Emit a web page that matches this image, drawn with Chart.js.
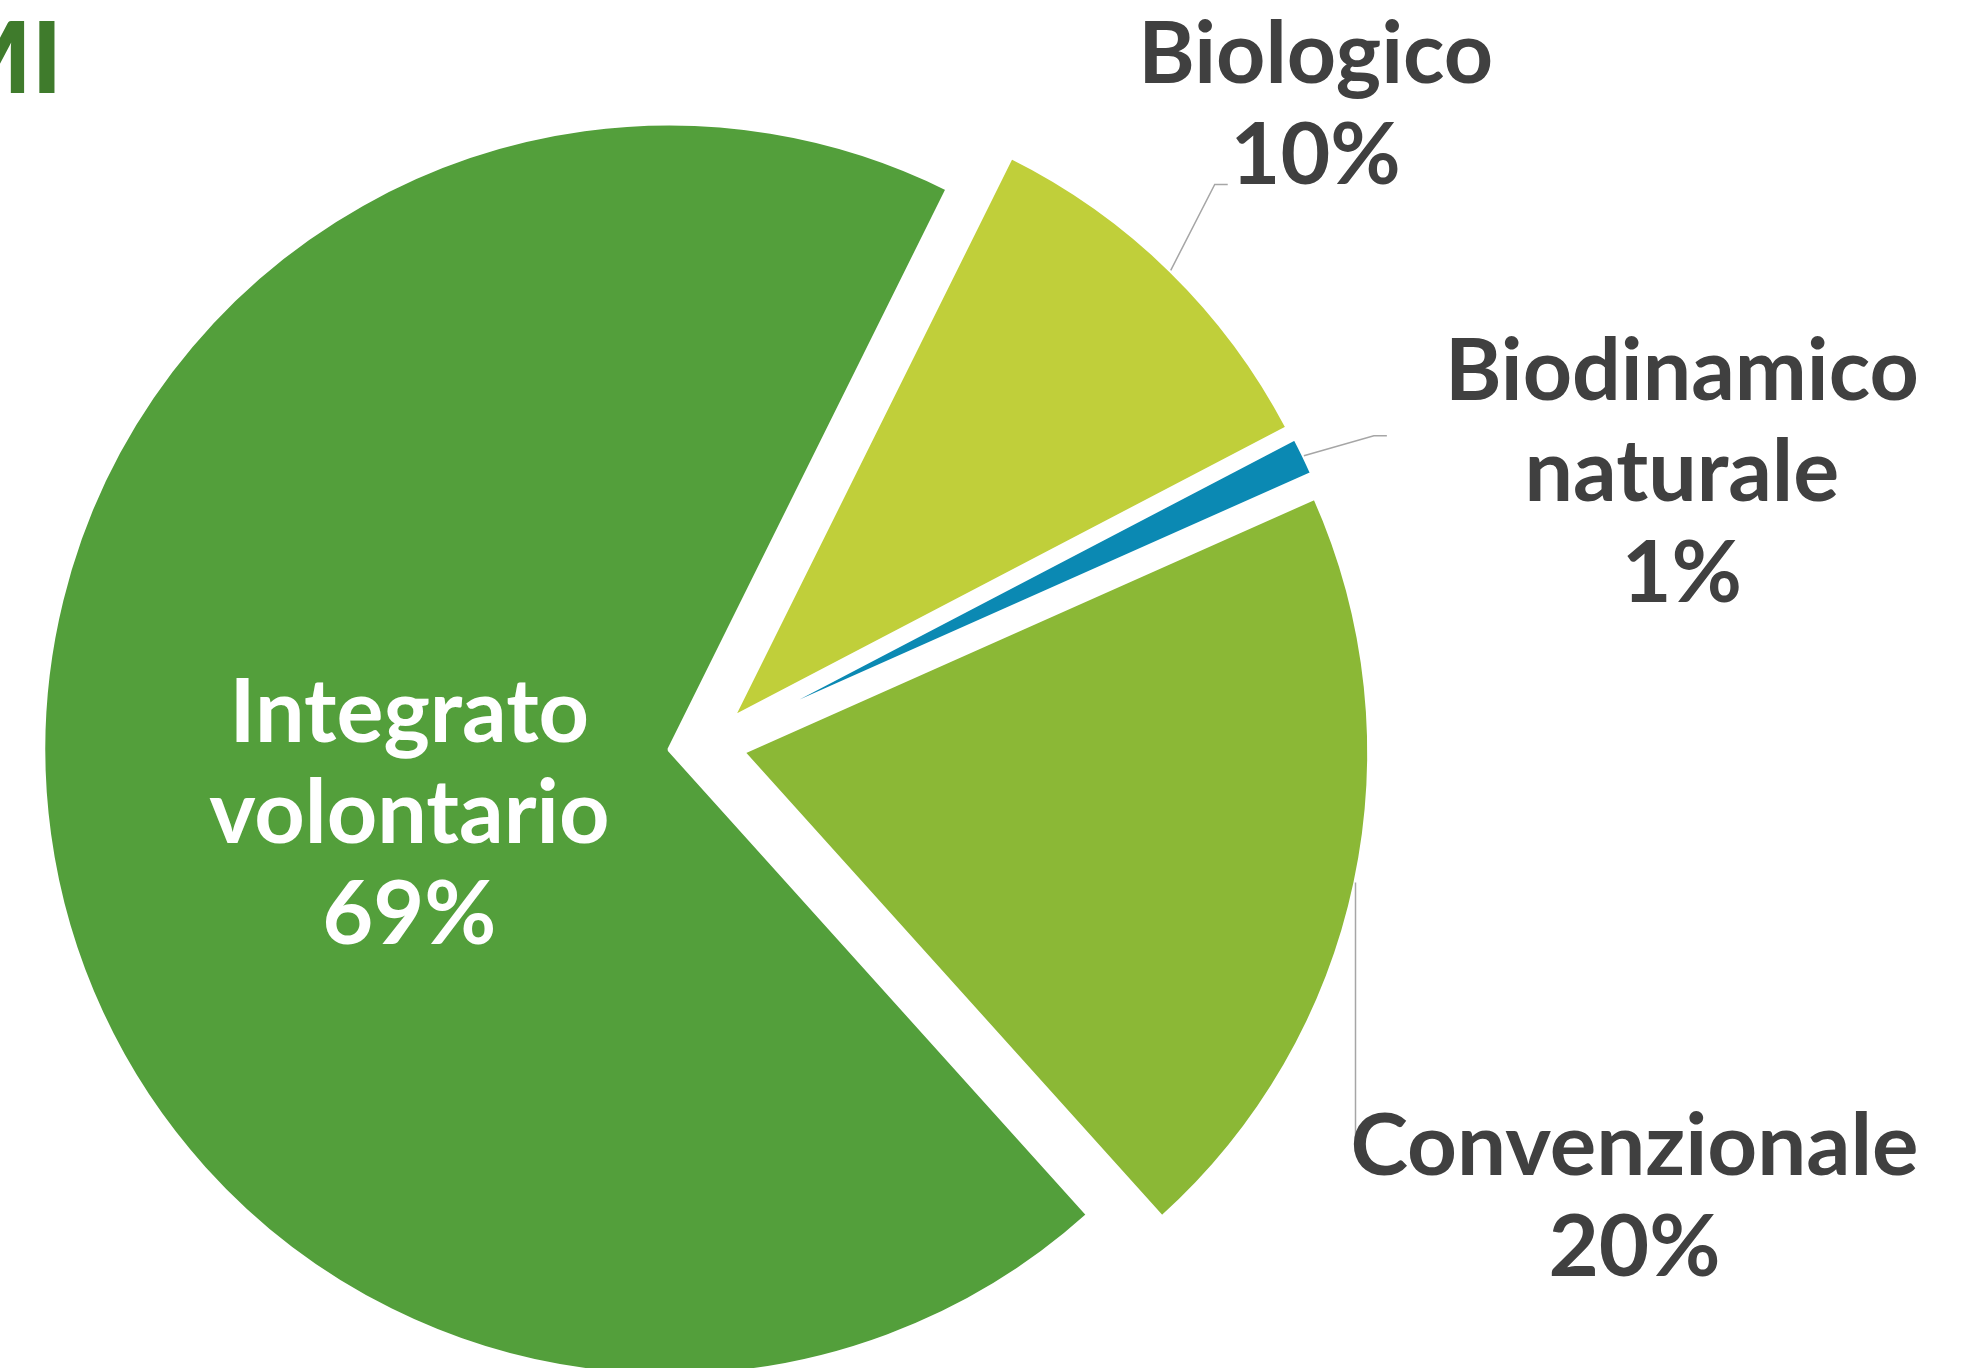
<!DOCTYPE html>
<html>
<head>
<meta charset="utf-8">
<script src="https://cdn.jsdelivr.net/npm/chart.js@4.4.0/dist/chart.umd.min.js"></script>
<style>
  html, body { margin: 0; padding: 0; background: #ffffff; overflow: hidden; }
  #wrap { position: relative; width: 1973px; height: 1368px; }
</style>
</head>
<body>
<div id="wrap"><canvas id="c"></canvas></div>
<script>
// ---- data ----
const categories = ['Biologico', 'Biodinamico naturale', 'Convenzionale', 'Integrato volontario'];
const labelLines = [['Biologico'], ['Biodinamico', 'naturale'], ['Convenzionale'], ['Integrato', 'volontario']];
const shares = [10, 1, 20, 69];
const sliceColors = ['#C0CF3A', '#0B89B3', '#8BB836', '#539F3B'];
const titleFragment = 'MI';

// ---- style ----
const STYLE = {
  rotation: 26.4,
  radius: 626,
  explode: 37.5,
  border: 4,
  padding: { left: 0, right: 560, top: 121, bottom: 0 },
  textColor: '#404040',
  leaderColor: '#A6A6A6',
  font: 'bold 86px Lato, "DejaVu Sans", sans-serif',
  lineHeight: 101,
  titleFont: '900 100px Lato, "DejaVu Sans", sans-serif',
  titleColor: '#3F7B2C',
  titleRight: 62,
  titleBaseline: 93,
  labels: [
    { mode: 'out', dx: 145, dy: -187, leader: [[44, -86], [57, -86]] },
    { mode: 'out', dx: 378, dy: -56, leader: [[70, -20], [83, -20]] },
    { mode: 'out', dx: 279, dy: 293, leader: [[0, 269]], font: 'bold 87px Lato, "DejaVu Sans", sans-serif' },
    { mode: 'in', dx: -260, dy: -8, color: '#FFFFFF', font: 'bold 88px Lato, "DejaVu Sans", sans-serif' }
  ]
};

const explodePlugin = {
  id: 'explodeSlices',
  afterDatasetUpdate(chart, args) {
    args.meta.data.forEach(arc => {
      const mid = (arc.startAngle + arc.endAngle) / 2;
      arc.x += STYLE.explode * Math.cos(mid);
      arc.y += STYLE.explode * Math.sin(mid);
    });
  }
};

const labelPlugin = {
  id: 'sliceLabels',
  afterDatasetsDraw(chart) {
    const ctx = chart.ctx;
    const arcs = chart.getDatasetMeta(0).data;
    ctx.save();
    ctx.font = STYLE.titleFont;
    ctx.fillStyle = STYLE.titleColor;
    ctx.textAlign = 'right';
    ctx.textBaseline = 'alphabetic';
    ctx.fillText(titleFragment, STYLE.titleRight, STYLE.titleBaseline);

    arcs.forEach((arc, i) => {
      const L = STYLE.labels[i];
      const mid = (arc.startAngle + arc.endAngle) / 2;
      let ax, ay;
      if (L.mode === 'out') {
        ax = arc.x + arc.outerRadius * Math.cos(mid);
        ay = arc.y + arc.outerRadius * Math.sin(mid);
        ctx.beginPath();
        ctx.moveTo(ax, ay);
        L.leader.forEach(p => ctx.lineTo(ax + p[0], ay + p[1]));
        ctx.strokeStyle = STYLE.leaderColor;
        ctx.lineWidth = 1.5;
        ctx.stroke();
      } else {
        ax = arc.x;
        ay = arc.y;
      }
      const lines = labelLines[i].concat([shares[i] + '%']);
      ctx.font = L.font || STYLE.font;
      ctx.fillStyle = L.color || STYLE.textColor;
      ctx.textAlign = 'center';
      ctx.textBaseline = 'alphabetic';
      lines.forEach((t, k) => ctx.fillText(t, ax + L.dx, ay + L.dy + k * STYLE.lineHeight));
    });
    ctx.restore();
  }
};

const chart = new Chart(document.getElementById('c'), {
  type: 'pie',
  data: {
    labels: categories,
    datasets: [{
      data: shares,
      backgroundColor: sliceColors,
      borderColor: '#FFFFFF',
      borderWidth: STYLE.border,
      borderAlign: 'center',
      clip: false
    }]
  },
  options: {
    responsive: true,
    maintainAspectRatio: false,
    animation: false,
    events: [],
    rotation: STYLE.rotation,
    radius: STYLE.radius,
    layout: { padding: STYLE.padding },
    plugins: {
      legend: { display: false },
      title: { display: false },
      tooltip: { enabled: false }
    }
  },
  plugins: [explodePlugin, labelPlugin]
});
if (document.fonts && document.fonts.ready) {
  document.fonts.ready.then(() => chart.draw());
}
</script>
</body>
</html>
